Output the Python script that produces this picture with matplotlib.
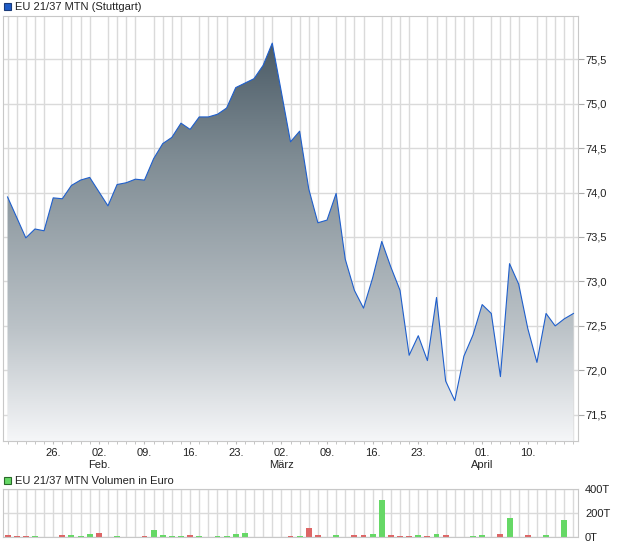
import numpy as np
import pandas as pd
import matplotlib
matplotlib.use('Agg')
import matplotlib.pyplot as plt
from matplotlib.colors import LinearSegmentedColormap
from matplotlib.patches import Rectangle

plt.rcParams['font.family'] = ['Liberation Sans', 'DejaVu Sans']

# trading days, Easter holidays left out
dates = pd.bdate_range('2026-01-19', '2026-04-17')
dates = dates[~dates.isin(pd.to_datetime(['2026-04-03', '2026-04-06']))]

prices = [73.95, 73.72, 73.49, 73.59, 73.57, 73.94, 73.93, 74.08, 74.14, 74.17,
          74.01, 73.85, 74.09, 74.11, 74.15, 74.14, 74.38, 74.55, 74.62, 74.78,
          74.71, 74.85, 74.85, 74.88, 74.95, 75.18, 75.23, 75.28, 75.43, 75.68,
          75.13, 74.57, 74.69, 74.04, 73.66, 73.69, 73.99, 73.25, 72.90, 72.70,
          73.04, 73.45, 73.16, 72.90, 72.17, 72.39, 72.11, 72.82, 71.88, 71.66,
          72.16, 72.40, 72.74, 72.64, 71.93, 73.20, 72.97, 72.47, 72.09, 72.64,
          72.50, 72.58, 72.64]

# volume in thousand euro (T)
volumes = [14, 5, 5, 5, 0, 0, 14, 14, 5, 22,
           30, 0, 5, 0, 0, 5, 55, 14, 5, 5,
           14, 5, 0, 5, 5, 22, 30, 0, 0, 0,
           0, 5, 5, 71, 14, 0, 14, 0, 14, 14,
           22, 310, 14, 5, 5, 14, 5, 22, 14, 0,
           0, 5, 14, 0, 22, 162, 0, 14, 0, 14,
           0, 145, 0]

tick_days = ['2026-01-26', '2026-02-02', '2026-02-09', '2026-02-16', '2026-02-23',
             '2026-03-02', '2026-03-09', '2026-03-16', '2026-03-23', '2026-04-01',
             '2026-04-10']
tick_labels = ['26.', '02.\nFeb.', '09.', '16.', '23.', '02.\nMärz', '09.', '16.',
               '23.', '01.\nApril', '10.']
price_ticks = [71.5, 72.0, 72.5, 73.0, 73.5, 74.0, 74.5, 75.0, 75.5]
vol_ticks = [0, 200, 400]
vol_tick_labels = ['0T', '200T', '400T']

W, H = 620, 546
fig = plt.figure(figsize=(W / 100, H / 100), dpi=100)
fig.patch.set_facecolor('white')

def box(x0, y0, x1, y1):
    return [x0 / W, 1 - y1 / H, (x1 - x0) / W, (y1 - y0) / H]

grid_c = '#dadada'
frame_c = '#c8c8c8'
txt_c = '#222222'
fs = 8.0

x = np.arange(len(dates))
xmin, xmax = -0.5, len(dates) - 0.5
ymin, ymax = 71.206, 75.985

ax = fig.add_axes(box(3, 16, 578, 441))
ax.set_xlim(xmin, xmax)
ax.set_ylim(ymin, ymax)
for s in ax.spines.values():
    s.set_color(frame_c)
ax.set_xticks(x, minor=True)
ax.grid(True, which='minor', axis='x', color=grid_c, lw=1)
ax.set_yticks(price_ticks)
ax.grid(True, which='major', axis='y', color=grid_c, lw=1)
ax.set_axisbelow(True)
ax.yaxis.tick_right()
ax.set_yticklabels([('%.1f' % v).replace('.', ',') for v in price_ticks])
ax.tick_params(axis='y', length=4, color='#aaaaaa', labelsize=fs, labelcolor=txt_c, pad=1)

pos = [dates.get_loc(pd.Timestamp(d)) for d in tick_days]
ax.set_xticks(pos)
ax.set_xticklabels(tick_labels)
ax.tick_params(axis='x', which='both', length=2, color='#bbbbbb', labelsize=fs,
               labelcolor=txt_c, pad=3)

# gradient area under the price line
cmap = LinearSegmentedColormap.from_list('area', [(0, '#f5f6f8'), (0.28, '#bcc3c8'),
                                                  (0.71, '#7f8c94'), (1, '#4b5b66')])
fill = ax.fill_between(x, prices, ymin, color='none', lw=0)
grad = np.linspace(0, 1, 256).reshape(-1, 1)
im = ax.imshow(grad, extent=(xmin, xmax, ymin, max(prices)), origin='lower',
               aspect='auto', cmap=cmap, zorder=2)
im.set_clip_path(fill.get_paths()[0], transform=ax.transData)
ax.plot(x, prices, color='#1f5fcc', lw=0.8, zorder=3)
ax.set_xlim(xmin, xmax)
ax.set_ylim(ymin, ymax)

# volume panel
vx = fig.add_axes(box(3, 489.3, 578, 536.7))
vx.set_xlim(xmin, xmax)
vx.set_ylim(0, 400)
for s in vx.spines.values():
    s.set_color(frame_c)
vx.set_xticks(x, minor=True)
vx.set_xticks([])
vx.grid(True, which='minor', axis='x', color=grid_c, lw=1)
vx.set_yticks(vol_ticks)
vx.grid(True, which='major', axis='y', color=grid_c, lw=1)
vx.set_axisbelow(True)
vx.yaxis.tick_right()
vx.set_yticklabels(vol_tick_labels)
vx.tick_params(axis='y', length=0, labelsize=fs, labelcolor=txt_c, pad=5)
vx.tick_params(axis='x', which='both', length=0)
colors = ['#dd6666'] + ['#66d866' if prices[i] >= prices[i - 1] else '#dd6666'
                        for i in range(1, len(prices))]
vx.bar(x, volumes, width=0.65, color=colors, zorder=2)

# legends
fig.add_artist(Rectangle((4 / W, 1 - 10 / H), 7 / W, 7 / H, transform=fig.transFigure,
                         facecolor='#1e5bc6', edgecolor='#1a3a78', lw=0.8))
fig.text(15 / W, 1 - 7 / H, 'EU 21/37 MTN (Stuttgart)', fontsize=fs, color=txt_c,
         va='center', ha='left')
fig.add_artist(Rectangle((4 / W, 1 - 484 / H), 7 / W, 7 / H, transform=fig.transFigure,
                         facecolor='#66d866', edgecolor='#2a6a2a', lw=0.8))
fig.text(15 / W, 1 - 481 / H, 'EU 21/37 MTN Volumen in Euro', fontsize=fs, color=txt_c,
         va='center', ha='left')

fig.savefig('out.png', dpi=100)
